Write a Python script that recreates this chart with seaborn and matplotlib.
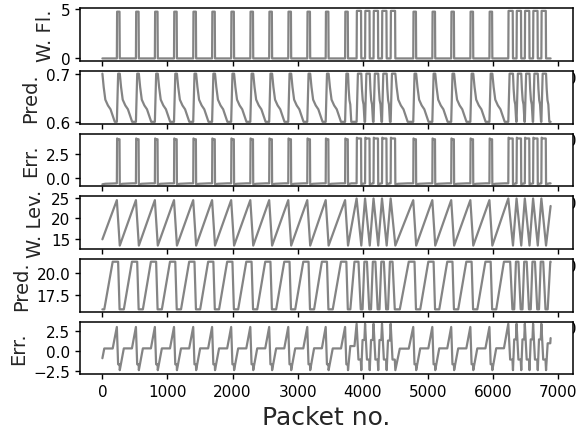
import numpy as np
import matplotlib
matplotlib.use("Agg")
import matplotlib.pyplot as plt
import seaborn as sns

# ---- water tank trace: turning points of the level (packet no.) ----
level_start = (0, 15.0)
level_end = (6885, 23.0)
slow_peaks_a = [222, 515, 806, 1100, 1395, 1685, 1978, 2272, 2562, 2855, 3147, 3430, 3728]
burst_peaks_a = [3905, 4035, 4165, 4295, 4428]
slow_peaks_b = [4775, 5068, 5358, 5652, 5945]
burst_peaks_b = [6235, 6362, 6489, 6616, 6743]

drain_slow = 45          # packets the outflow stays open in a normal cycle
drain_burst = 72         # ... and during the fast bursts
peak_slow = 24.4
peak_burst = 24.8
trough_level = 13.5
flow_slow = 4.72
flow_burst = 4.80

# predictor output for the flow: high/low value and decay after a pulse
flow_pred_low = 0.6
flow_pred_high = 0.7
flow_decay_slow = [(20, 0.672), (45, 0.646), (85, 0.634), (125, 0.626), (160, 0.612), (190, 0.600)]
flow_decay_burst = [(10, 0.668), (22, 0.645), (35, 0.636), (50, 0.600)]

# predictor output for the level: saturation bounds, offset and lag (packets)
level_pred_low = 15.88
level_pred_high = 21.35
level_pred_offset = 0.05
level_pred_lag = 7

x_ticks = [0, 1000, 2000, 3000, 4000, 5000, 6000, 7000]
y_labels = ["W. Fl.", "Pred.", "Err.", "W. Lev.", "Pred.", "Err."]
y_ticks = [[0, 5], [0.6, 0.7], [0.0, 2.5], [15, 20, 25], [17.5, 20.0], [-2.5, 0.0, 2.5]]

# ---- assemble series ----
cycles = ([(p, "s") for p in slow_peaks_a] + [(p, "b") for p in burst_peaks_a]
          + [(p, "s") for p in slow_peaks_b] + [(p, "b") for p in burst_peaks_b])

lev_t, lev_y = [level_start[0]], [level_start[1]]
pulses = []
for p, k in cycles:
    d = drain_slow if k == "s" else drain_burst
    top = peak_slow if k == "s" else peak_burst
    lev_t += [p, p + d]
    lev_y += [top, trough_level]
    pulses.append((p, p + d, flow_slow if k == "s" else flow_burst))
lev_t.append(level_end[0])
lev_y.append(level_end[1])
lev_t = np.array(lev_t, float)
lev_y = np.array(lev_y, float)
t_end = level_end[0]

# flow: rectangular pulses while the tank drains
fl_t, fl_y = [0], [0.0]
for on, off, h in pulses:
    fl_t += [on, on + 4, off - 4, off]
    fl_y += [0.0, h, h, 0.0]
fl_t.append(t_end)
fl_y.append(0.0)

# flow prediction
fp_t, fp_y = [0], [flow_pred_high]


def add_decay(end, nxt):
    shape = flow_decay_slow if nxt - end > 150 else flow_decay_burst
    for dt, v in shape:
        if end + dt < nxt:
            fp_t.append(end + dt)
            fp_y.append(v)


add_decay(0, pulses[0][0])
for i, (on, off, h) in enumerate(pulses):
    fp_t += [on, on + 20, off]
    fp_y += [flow_pred_low, flow_pred_high, flow_pred_high]
    nxt = pulses[i + 1][0] if i + 1 < len(pulses) else t_end
    add_decay(off, nxt)
if fp_t[-1] < t_end:
    fp_t.append(t_end)
    fp_y.append(flow_pred_low)

fl_t = np.array(fl_t, float)
fl_y = np.array(fl_y, float)
fp_t = np.array(fp_t, float)
fp_y = np.array(fp_y, float)

grid_f = np.unique(np.concatenate([fl_t, fp_t]))
flow_err = np.interp(grid_f, fl_t, fl_y) - np.interp(grid_f, fp_t, fp_y)


def crossings(t, y, v):
    out = []
    for i in range(len(t) - 1):
        if (y[i] - v) * (y[i + 1] - v) < 0:
            out.append(t[i] + (v - y[i]) / (y[i + 1] - y[i]) * (t[i + 1] - t[i]))
    return out


# level prediction: saturated copy of the level, delayed by a few packets
src_t = np.unique(np.concatenate([
    lev_t,
    crossings(lev_t, lev_y, level_pred_low + level_pred_offset),
    crossings(lev_t, lev_y, level_pred_high + level_pred_offset),
]))
src_y = np.clip(np.interp(src_t, lev_t, lev_y) - level_pred_offset,
                level_pred_low, level_pred_high)
lp_t = np.concatenate([[0.0], src_t + level_pred_lag])
lp_y = np.concatenate([[src_y[0]], src_y])
keep = lp_t <= t_end
lp_t, lp_y = lp_t[keep], lp_y[keep]
lp_t = np.append(lp_t, t_end)
lp_y = np.append(lp_y, np.interp(t_end - level_pred_lag, src_t, src_y))

grid_l = np.unique(np.concatenate([lev_t, lp_t]))
lev_pred = np.interp(grid_l, lp_t, lp_y)
lev_err = np.interp(grid_l, lev_t, lev_y) - lev_pred

series = [
    (fl_t, fl_y),
    (fp_t, fp_y),
    (grid_f, flow_err),
    (lev_t, lev_y),
    (grid_l, lev_pred),
    (grid_l, lev_err),
]
y_limits = [(-0.24, 5.06), (0.5965, 0.7055), (-0.9, 4.6),
            (12.7, 25.3), (15.62, 21.65), (-2.9, 3.7)]

# ---- figure ----
sns.set_theme(style="ticks", rc={
    "axes.edgecolor": "black",
    "axes.linewidth": 1.1,
    "xtick.major.size": 3.5,
    "ytick.major.size": 3.5,
    "xtick.major.width": 1.0,
    "ytick.major.width": 1.0,
    "xtick.color": "black",
    "ytick.color": "black",
    "xtick.labelsize": 11,
    "ytick.labelsize": 11,
    "axes.labelsize": 14,
})
plt.rcParams["font.family"] = ["DejaVu Sans"]

W, H = 579, 431
fig = plt.figure(figsize=(W / 100, H / 100), dpi=100)
left, right = 80, 573
top0, step, height = 9.3, 62.7, 52.5

axes = []
for i, ((xs, ys), lab, yt, yl) in enumerate(zip(series, y_labels, y_ticks, y_limits)):
    top = top0 + i * step
    ax = fig.add_axes([left / W, 1 - (top + height) / H, (right - left) / W, height / H])
    sns.lineplot(x=xs, y=ys, ax=ax, color="#848484", linewidth=1.6,
                 estimator=None, sort=False)
    ax.set_xlim(-344, 7229)
    ax.set_ylim(*yl)
    ax.set_xticks(x_ticks)
    ax.set_yticks(yt)
    ax.set_ylabel(lab)
    axes.append(ax)

axes[-1].set_xlabel("Packet no.", fontsize=18)

fig.savefig("out.png", dpi=100)
